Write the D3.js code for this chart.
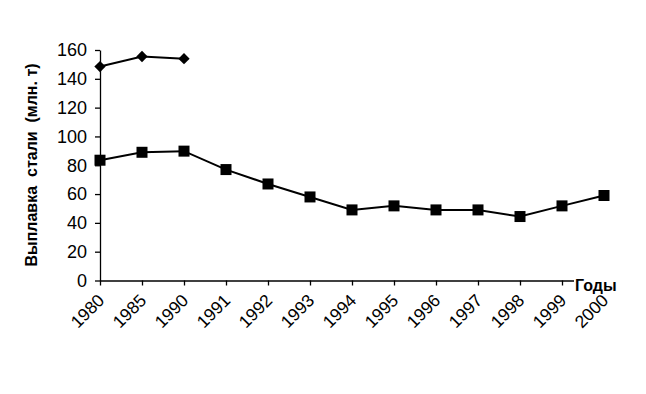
<!DOCTYPE html>
<html><head><meta charset="utf-8">
<script src="https://cdn.jsdelivr.net/npm/d3@7"></script>
<style>
body{margin:0;background:#fff;}
svg text{font-family:"Liberation Sans",Arial,sans-serif;fill:#000;}
</style></head><body>
<svg id="c" width="646" height="394"></svg>
<script>
const categories = ["1980","1985","1990","1991","1992","1993","1994","1995","1996","1997","1998","1999","2000"];
const ussrYears = ["1980","1985","1990"];
const ussrValues = [148.5, 155.5, 154];
const russiaValues = [83.5, 89, 89.8, 77, 67, 58, 49, 51.8, 49, 49, 44.4, 51.8, 59];
const yTicks = [0,20,40,60,80,100,120,140,160];
const yTitle = "Выплавка  стали  (млн. т)";
const xTitle = "Годы";

const svg = d3.select("#c");
const x = d3.scalePoint().domain(categories).range([100, 604]);
const y = d3.scaleLinear().domain([0,160]).range([280.5, 50]);

const gy = svg.append("g").attr("transform","translate(100,0)")
  .call(d3.axisLeft(y).tickValues(yTicks).tickSize(5).tickPadding(8).tickSizeOuter(0));
gy.attr("font-size",null).attr("font-family",null);
gy.selectAll("text").style("font-size","18px");
const gx = svg.append("g").attr("transform","translate(0,280.5)")
  .call(d3.axisBottom(x).tickSize(5).tickSizeOuter(0));
gx.attr("font-size",null).attr("font-family",null);
gx.selectAll("text").style("font-size","17.5px")
  .attr("text-anchor","end").attr("dx",null).attr("dy",null)
  .attr("transform","translate(5,21) rotate(-45)").attr("y",0).attr("x",0);
svg.selectAll(".domain, .tick line").attr("stroke","#000").attr("stroke-width",1.3);

// x title with white background
const bgRect = svg.append("rect").attr("fill","#fff");
const xt = svg.append("text").attr("x",575).attr("y",291)
  .style("font-size","16px").style("font-weight","bold").text(xTitle);
const bb = xt.node().getBBox();
bgRect.attr("x",bb.x-1).attr("y",bb.y).attr("width",bb.width+2).attr("height",bb.height);

svg.append("text").attr("transform","translate(37,165) rotate(-90)")
  .attr("text-anchor","middle").style("font-size","16px").style("font-weight","bold")
  .style("white-space","pre").text(yTitle);

const line = d3.line().x(d=>x(d[0])).y(d=>y(d[1]));
const rus = categories.map((c,i)=>[c,russiaValues[i]]);
const ussr = ussrYears.map((c,i)=>[c,ussrValues[i]]);
svg.append("path").datum(rus).attr("d",line).attr("fill","none").attr("stroke","#000").attr("stroke-width",2);
svg.append("path").datum(ussr).attr("d",line).attr("fill","none").attr("stroke","#000").attr("stroke-width",2);
svg.selectAll("rect.sq").data(rus).enter().append("rect").attr("class","sq")
  .attr("x",d=>x(d[0])-5.5).attr("y",d=>y(d[1])-5.5).attr("width",11).attr("height",11).attr("fill","#000");
svg.selectAll("path.dm").data(ussr).enter().append("path").attr("class","dm")
  .attr("d",d3.symbol(d3.symbolSquare, 64))
  .attr("transform",d=>`translate(${x(d[0])},${y(d[1])}) rotate(45)`).attr("fill","#000");
</script></body></html>
